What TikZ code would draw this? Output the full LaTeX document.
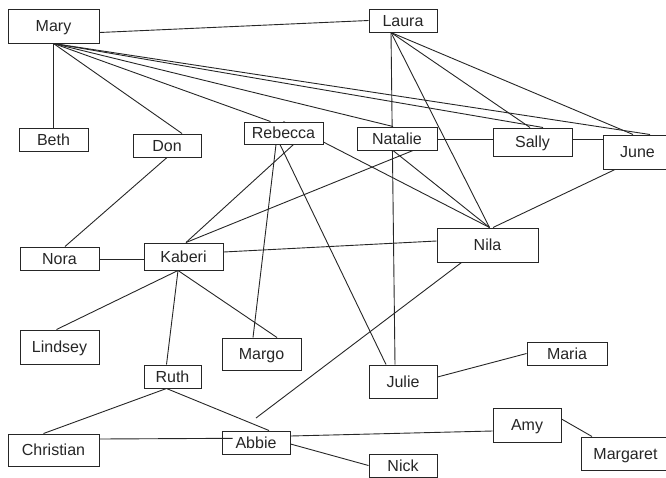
\documentclass[tikz,border=0pt]{standalone}
\usepackage{fontspec}
\setmainfont{Liberation Sans}
\usetikzlibrary{backgrounds}
\begin{document}
\begin{tikzpicture}[x=1pt,y=-1pt,
  box/.style={draw=black!85,line width=1pt,fill=white,rectangle,inner sep=0pt,
    font=\fontsize{16}{18}\selectfont,text=black!85,text height=11.5pt,text depth=0pt},
  link/.style={draw=black!85,line width=0.9pt}]
\useasboundingbox (0,0) rectangle (666,477);
\clip (0,0) rectangle (666,477);
% nodes
\node[box,minimum width=91pt,minimum height=34pt] (mary) at (53.5,26) {Mary};
\node[box,minimum width=68pt,minimum height=23pt] (laura) at (403,20.5) {Laura};
\node[box,minimum width=69pt,minimum height=23pt] (beth) at (53.5,139.5) {Beth};
\node[box,minimum width=68pt,minimum height=23pt] (don) at (167,145.5) {Don};
\node[box,minimum width=79pt,minimum height=22pt] (rebecca) at (283.5,133) {Rebecca};
\node[box,minimum width=80pt,minimum height=23pt] (natalie) at (397,138.5) {Natalie};
\node[box,minimum width=79pt,minimum height=28pt] (sally) at (532.5,142) {Sally};
\node[box,minimum width=69pt,minimum height=34pt] (june) at (637.5,152) {June};
\node[box,minimum width=101pt,minimum height=34pt] (nila) at (487.5,245) {Nila};
\node[box,minimum width=79pt,minimum height=23pt] (nora) at (59.5,258.5) {Nora};
\node[box,minimum width=79pt,minimum height=27pt] (kaberi) at (183.5,256.5) {Kaberi};
\node[box,minimum width=79pt,minimum height=34pt] (lindsey) at (59.5,347) {Lindsey};
\node[box,minimum width=79pt,minimum height=32pt] (margo) at (261.5,354) {Margo};
\node[box,minimum width=57pt,minimum height=23pt] (ruth) at (172.5,376.5) {Ruth};
\node[box,minimum width=91pt,minimum height=32pt] (christian) at (53.5,450) {Christian};
\node[box,minimum width=68pt,minimum height=23pt] (abbie) at (256,442.5) {Abbie};
\node[box,minimum width=68pt,minimum height=33pt] (julie) at (403,381.5) {Julie};
\node[box,minimum width=80pt,minimum height=23pt] (maria) at (567,353.5) {Maria};
\node[box,minimum width=68pt,minimum height=34pt] (amy) at (527,425) {Amy};
\node[box,minimum width=89pt,minimum height=33pt] (margaret) at (625.5,453.5) {Margaret};
\node[box,minimum width=68pt,minimum height=23pt] (nick) at (403,465.5) {Nick};
\coordinate (free) at (256,418);
% connectors
\begin{scope}[on background layer]
\draw[link] ([yshift=11pt]mary.south east) -- (laura.west);
\draw[link] (mary.south) -- (beth.north);
\draw[link] (mary.south) -- ([xshift=15pt]don.north);
\draw[link] (mary.south) -- ([xshift=-13pt]rebecca.north);
\draw[link] (mary.south) -- ([xshift=-4pt]natalie.north);
\draw[link] (mary.south) -- ([xshift=10.5pt]sally.north);
\draw[link] (mary.south) -- ([xshift=12.5pt]june.north);
\draw[link] ([xshift=-12pt]laura.south) -- ([xshift=-2.5pt]sally.north);
\draw[link] ([xshift=-12pt]laura.south) -- ([xshift=-4.5pt]june.north);
\draw[link] ([xshift=-12pt]laura.south) -- ([xshift=2pt]nila.north);
\draw[link] ([xshift=-12pt]laura.south) -- ([xshift=-8pt]julie.north);
\draw[link] ([xshift=-4pt]natalie.south) -- ([xshift=2pt]nila.north);
\draw[link] ([xshift=16pt]natalie.south) -- ([xshift=2.5pt]kaberi.north);
\draw[link] (rebecca.north) -- ([xshift=2pt]nila.north);
\draw[link] ([xshift=10pt]rebecca.south) -- ([xshift=2.5pt]kaberi.north);
\draw[link] ([xshift=-7.5pt]rebecca.south) -- ([xshift=-8.5pt]margo.north);
\draw[link] ([xshift=-3.5pt]rebecca.south) -- ([xshift=-17pt]julie.north);
\draw[link] (don.south) -- ([xshift=5.5pt]nora.north);
\draw[link] ([yshift=-0.5pt]nora.east) coordinate (nk) -- (nk -| kaberi.west);
\draw[link] ([yshift=4.5pt]kaberi.east) -- ([yshift=4pt]nila.west);
\draw[link] ([xshift=-5.5pt]kaberi.south) -- ([xshift=-3pt]lindsey.north);
\draw[link] ([xshift=-5.5pt]kaberi.south) -- ([xshift=-6pt]ruth.north);
\draw[link] ([xshift=-5.5pt]kaberi.south) -- ([xshift=15.5pt]margo.north);
\draw[link] ([xshift=-6pt]ruth.south) -- ([xshift=-10pt]christian.north);
\draw[link] ([xshift=-6pt]ruth.south) -- ([xshift=13pt]abbie.north);
\draw[link] ([xshift=-26pt]nila.south) -- (free);
\draw[link] ([yshift=6.5pt]abbie.east) -- ([yshift=-6pt]amy.west);
\draw[link] ([yshift=-1.5pt]abbie.east) -- (nick.west);
\draw[link] ([yshift=6pt]amy.east) -- ([xshift=-33.5pt]margaret.north);
\draw[link] ([yshift=4.5pt]julie.east) -- (maria.west);
\draw[link] ([xshift=-22.5pt]june.south) -- ([xshift=5.5pt]nila.north);
\draw[link] ([yshift=-0.8pt]natalie.east) coordinate (ns) -- (ns -| sally.west);
\draw[link] ([yshift=2.7pt]sally.east) coordinate (sj) -- (sj -| june.west);
\end{scope}
\draw[link] ([yshift=11pt]christian.east) -- ([xshift=11pt,yshift=4.2pt]abbie.west);
\end{tikzpicture}
\end{document}
